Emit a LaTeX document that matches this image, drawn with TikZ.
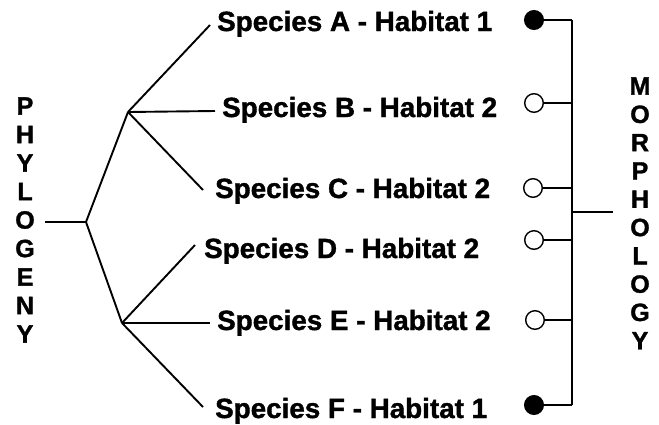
\documentclass[tikz,border=0pt]{standalone}
\usepackage{fontspec}
\setmainfont{Liberation Sans}[BoldFeatures={FakeBold=1.3}]
\begin{document}
\begin{tikzpicture}[x=1pt,y=-1pt,
  lab/.style={font=\fontsize{27.8}{30}\selectfont\bfseries, anchor=base west, inner sep=0},
  vlet/.style={font=\fontsize{25}{27}\selectfont\bfseries, inner sep=0},
  tree/.style={line width=1.9pt},
  brk/.style={line width=1.5pt},
  dot/.style={circle, draw, line width=1.4pt, minimum size=18.6pt, inner sep=0},
  full/.style={dot, fill=black},
  open/.style={dot, fill=white}]
\useasboundingbox (0,0) rectangle (659,424);

% species labels
\node[lab] (la) at (217,31) {Species A - Habitat 1};
\node[lab] (lb) at (222,117) {Species B - Habitat 2};
\node[lab] (lc) at (215,198) {Species C - Habitat 2};
\node[lab] (ld) at (204,258) {Species D - Habitat 2};
\node[lab] (le) at (217,330) {Species E - Habitat 2};
\node[lab] (lf) at (215,418) {Species F - Habitat 1};

% phylogeny tree
\coordinate (p0) at (45,222);
\coordinate (root) at (86,222);
\coordinate (up) at (128,112);
\coordinate (lo) at (122,323);
\coordinate (ea) at (210,25);
\coordinate (eb) at (215,111);
\coordinate (ec) at (203,190);
\coordinate (ed) at (195,245);
\coordinate (ee) at (210,323);
\coordinate (ef) at (203,407);
\draw[tree] (p0) -- (root);
\draw[tree] (root) -- (up);
\draw[tree] (root) -- (lo);
\draw[tree] (up) -- (ea);
\draw[tree] (up) -- (eb);
\draw[tree] (up) -- (ec);
\draw[tree] (lo) -- (ed);
\draw[tree] (lo) -- (ee);
\draw[tree] (lo) -- (ef);

% morphology circles
\node[full] (ca) at (534,20) {};
\node[open] (cb) at (534,103) {};
\node[open] (cc) at (533,188) {};
\node[open] (cd) at (534,240) {};
\node[open] (ce) at (535,320) {};
\node[full] (cf) at (534,405) {};
\coordinate (ja) at (572,20);
\coordinate (jb) at (572,103);
\coordinate (jc) at (572,188);
\coordinate (jd) at (572,240);
\coordinate (je) at (572,320);
\coordinate (jf) at (572,405);
\coordinate (jm) at (572,212);
\coordinate (mt) at (613,212);
\draw[brk] (ca.east) -- (ja);
\draw[brk] (cb.east) -- (jb);
\draw[brk] (cc.east) -- (jc);
\draw[brk] (cd.east) -- (jd);
\draw[brk] (ce.east) -- (je);
\draw[brk] (cf.east) -- (jf);
\draw[brk] (ja) -- (jf);
\draw[brk] (jm) -- (mt);

% vertical words
\foreach \ch [count=\i from 0] in {P,H,Y,L,O,G,E,N,Y}
  \node[vlet] (ph\i) at (25,106+28.5*\i) {\ch};
\foreach \ch [count=\i from 0] in {M,O,R,P,H,O,L,O,G,Y}
  \node[vlet] (mo\i) at (640,86+28.3*\i) {\ch};
\end{tikzpicture}
\end{document}
